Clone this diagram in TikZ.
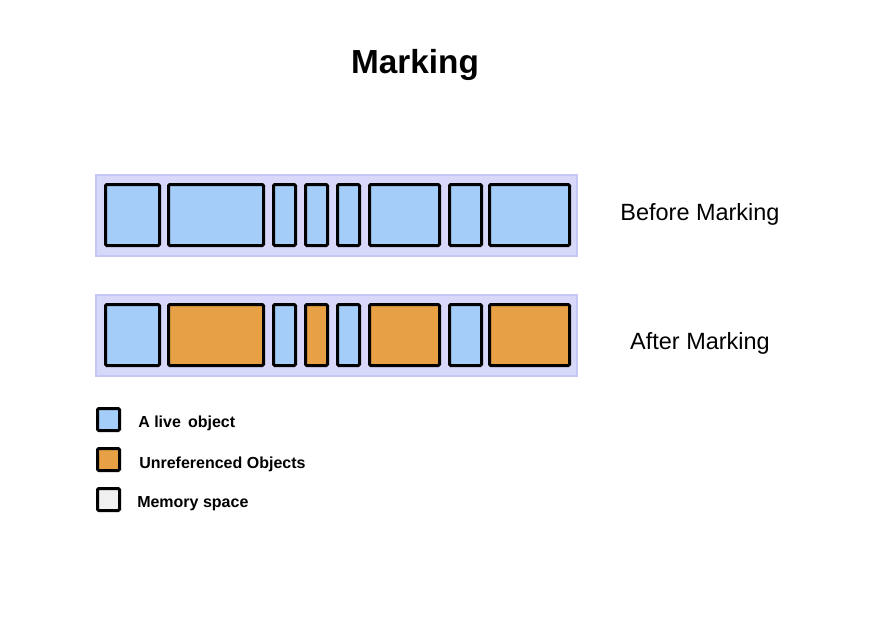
\documentclass[tikz,border=0pt]{standalone}
\usepackage{fontspec}
\setmainfont{Liberation Sans}
\usetikzlibrary{positioning}
\definecolor{livecol}{HTML}{A5CDF9}
\definecolor{deadcol}{HTML}{E8A044}
\definecolor{memcol}{HTML}{F0F0F0}
\definecolor{barfill}{HTML}{D8D8FB}
\definecolor{barline}{HTML}{C6C7F5}

\begin{document}
\begin{tikzpicture}[
  x=0.75pt, y=-0.75pt,
  blk/.style={draw, line width=2.25pt, rounded corners=1pt,
    inner sep=0pt, outer sep=0pt, minimum height=61*0.75pt},
  bar/.style={draw=barline, fill=barfill, line width=1.5pt,
    inner sep=0pt, minimum width=481*0.75pt, minimum height=81*0.75pt},
  key/.style={draw, line width=2.25pt, rounded corners=1pt,
    inner sep=0pt, minimum size=22*0.75pt},
  keytxt/.style={font=\bfseries\fontsize{12}{14}\selectfont, anchor=west,
    inner sep=0pt},
  rowtxt/.style={font=\fontsize{17.6}{20}\selectfont}
]
  \useasboundingbox (0,0) rectangle (872,618);

  % Title
  \node[font=\bfseries\fontsize{25}{30}\selectfont] (title) at (415,65) {Marking};

  % Memory before marking
  \node[bar] (mem1) at (336.5,215.5) {};
  \foreach \l/\r [count=\i] in {104/161, 167/265, 272/297, 304/329,
      336/361, 368/441, 448/483, 488/571} {
    \node[blk, fill=livecol, minimum width=(\r-\l-3)*0.75pt]
      (b\i) at ({(\l+\r)/2},215) {};
  }
  \node[rowtxt] (before) at (700,214) {Before Marking};

  % Memory after marking
  \node[bar] (mem2) at (336.5,335.5) {};
  \foreach \l/\r/\u [count=\i] in {104/161/1, 167/265/0, 272/297/1,
      304/329/0, 336/361/1, 368/441/0, 448/483/1, 488/571/0} {
    \ifnum\u=1
      \def\fillcol{livecol}
    \else
      \def\fillcol{deadcol}
    \fi
    \node[blk, fill=\fillcol, minimum width=(\r-\l-3)*0.75pt]
      (a\i) at ({(\l+\r)/2},335) {};
  }
  \node[rowtxt] (after) at (700,343) {After Marking};

  % Legend
  \node[key, fill=livecol] (k1) at (108.5,419.5) {};
  \node[keytxt] (t1) at (138,423.5) {A live\, object};
  \node[key, fill=deadcol] (k2) at (108.5,459.5) {};
  \node[keytxt] (t2) at (139,464.5) {Unreferenced Objects};
  \node[key, fill=memcol] (k3) at (108.5,499.5) {};
  \node[keytxt] (t3) at (137,503.5) {Memory space};
\end{tikzpicture}
\end{document}
